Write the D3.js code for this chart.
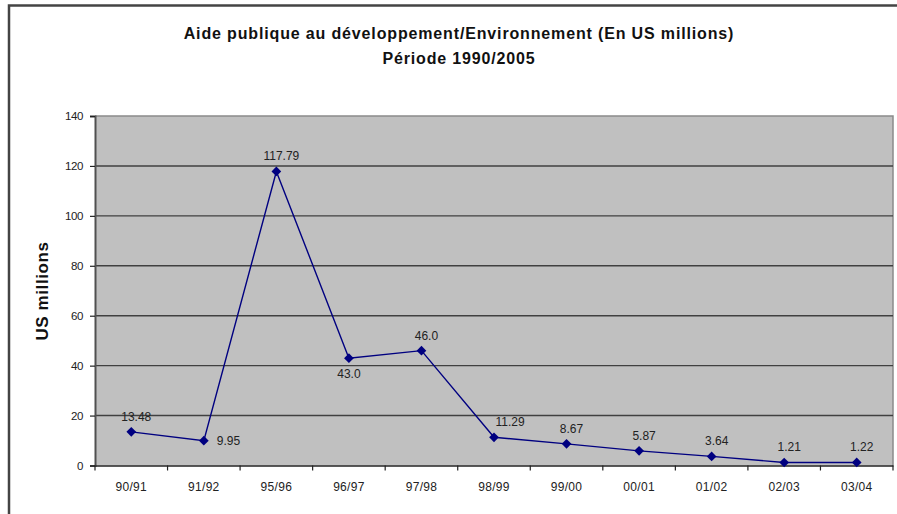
<!DOCTYPE html>
<html><head><meta charset="utf-8">
<script src="https://cdn.jsdelivr.net/npm/d3@7"></script>
<style>
body{margin:0;background:#fff;}
svg{display:block;font-family:"Liberation Sans",Arial,sans-serif;}
</style></head>
<body><svg id="c" width="897" height="514"></svg>
<script>
const categories = ["90/91","91/92","95/96","96/97","97/98","98/99","99/00","00/01","01/02","02/03","03/04"];
const values = [13.48, 9.95, 117.79, 43.0, 46.0, 11.29, 8.67, 5.87, 3.64, 1.21, 1.22];
const valueLabels = ["13.48","9.95","117.79","43.0","46.0","11.29","8.67","5.87","3.64","1.21","1.22"];
const labelPos = ["above","right","above","below","above","above-right","above","above","above","above","above"];
const yTicks = [0,20,40,60,80,100,120,140];
const titleLines = ["Aide publique au développement/Environnement (En US millions)","Période 1990/2005"];
const yTitle = "US millions";

const svg = d3.select("#c");
const L = 95, R = 893, T = 116, B = 465.5;

// outer frame
svg.append("path").attr("d", `M9,514 V5.5 H897`).attr("fill","none").attr("stroke","#444").attr("stroke-width",2.5);

const x = d3.scaleBand().domain(categories).range([L, R]).padding(0);
const y = d3.scaleLinear().domain([0,140]).range([B, T]);

svg.append("rect").attr("x",L).attr("y",T).attr("width",R-L).attr("height",B-T).attr("fill","#c0c0c0");
svg.append("path").attr("d",`M${L},${T} H${R} V${B}`).attr("fill","none").attr("stroke","#8a8a8a").attr("stroke-width",1.5);

// gridlines
svg.append("g").selectAll("line").data(yTicks.filter(d=>d>0 && d<140)).join("line")
  .attr("x1",L).attr("x2",R).attr("y1",d=>y(d)).attr("y2",d=>y(d))
  .attr("stroke","#404040").attr("stroke-width",1.4);

// y axis
const ya = svg.append("g").attr("transform",`translate(${L},0)`)
  .call(d3.axisLeft(y).tickValues(yTicks).tickSize(5).tickPadding(7));
ya.select(".domain").attr("stroke","#505050").attr("stroke-width",2);
ya.selectAll(".tick line").attr("stroke","#222").attr("stroke-width",1.2);
ya.selectAll("text").attr("font-size",11.5).attr("fill","#222").style("letter-spacing","-0.4px");

// x axis
const xa = svg.append("g").attr("transform",`translate(0,${B})`)
  .call(d3.axisBottom(x).tickSize(0).tickPadding(17));
xa.select(".domain").attr("stroke","#222").attr("stroke-width",1.5);
xa.selectAll("text").attr("font-size",12).attr("fill","#222").style("letter-spacing","0.3px");
const bounds = categories.map(c=>x(c)).concat([R]);
svg.append("g").selectAll("line").data(bounds).join("line")
  .attr("x1",d=>d).attr("x2",d=>d).attr("y1",B).attr("y2",B+5)
  .attr("stroke","#222").attr("stroke-width",1.2);

// line
const cx = c => x(c) + x.bandwidth()/2;
const line = d3.line().x((d,i)=>cx(categories[i])).y(d=>y(d));
svg.append("path").datum(values).attr("d",line).attr("fill","none").attr("stroke","#000080").attr("stroke-width",1.4);
svg.append("g").selectAll("path").data(values).join("path")
  .attr("transform",(d,i)=>`translate(${cx(categories[i])},${y(d)})`)
  .attr("d",d3.symbol().type(d3.symbolDiamond2).size(60))
  .attr("fill","#000080");

// labels
const dxFor = p => p==="right" ? 13 : p==="above-right" ? 16 : p==="below" ? 0 : 5;
svg.append("g").selectAll("text").data(values).join("text")
  .attr("x",(d,i)=> cx(categories[i]) + dxFor(labelPos[i]))
  .attr("y",(d,i)=> labelPos[i]==="right" ? y(d)+4 : labelPos[i]==="below" ? y(d)+20 : y(d)-11)
  .attr("text-anchor",(d,i)=> labelPos[i]==="right" ? "start" : "middle")
  .attr("font-size",12).attr("fill","#222").style("letter-spacing","0px")
  .text((d,i)=>valueLabels[i]);

// titles
svg.append("g").selectAll("text").data(titleLines).join("text")
  .attr("x",459).attr("y",(d,i)=>39+i*25).attr("text-anchor","middle")
  .attr("font-size",16).attr("font-weight","bold").attr("fill","#111")
  .style("letter-spacing","0.85px")
  .text(d=>d);

svg.append("text").attr("transform",`translate(48,291) rotate(-90)`)
  .attr("text-anchor","middle").attr("font-size",17).attr("font-weight","bold").attr("fill","#111")
  .style("letter-spacing","0.6px")
  .text(yTitle);
</script></body></html>
